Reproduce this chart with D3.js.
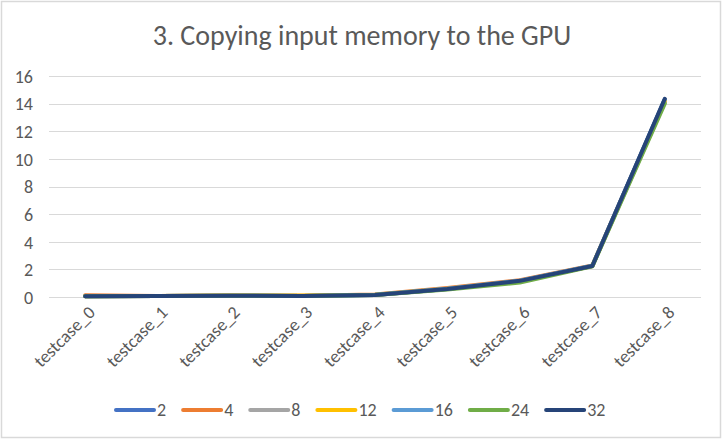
<!DOCTYPE html>
<html>
<head>
<meta charset="utf-8">
<script src="https://cdn.jsdelivr.net/npm/d3@7"></script>
<style>
  body { margin: 0; background: #fff; }
  text { font-family: Carlito, "Open Sans", "Noto Sans", sans-serif; fill: #595959; }
</style>
</head>
<body>
<div id="chart"></div>
<script>
// categories on the x axis
var categories = ["testcase_0", "testcase_1", "testcase_2", "testcase_3", "testcase_4",
                  "testcase_5", "testcase_6", "testcase_7", "testcase_8"];

// series names (legend) and their colours
var seriesNames = ["2", "4", "8", "12", "16", "24", "32"];
var seriesColors = ["#4472C4", "#ED7D31", "#A5A5A5", "#FFC000", "#5B9BD5", "#70AD47", "#264478"];

// values, one array per series
var s2  = [0.05, 0.07, 0.09, 0.08, 0.15, 0.58, 1.18, 2.25, 14.3];
var s4  = [0.12, 0.08, 0.10, 0.09, 0.18, 0.65, 1.22, 2.28, 14.2];
var s8  = [0.06, 0.07, 0.09, 0.08, 0.15, 0.60, 1.15, 2.24, 14.1];
var s12 = [0.06, 0.07, 0.10, 0.10, 0.16, 0.60, 1.16, 2.25, 14.2];
var s16 = [0.06, 0.08, 0.09, 0.08, 0.16, 0.60, 1.18, 2.26, 14.3];
var s24 = [0.05, 0.07, 0.09, 0.08, 0.14, 0.55, 1.05, 2.22, 14.0];
var s32 = [0.05, 0.07, 0.09, 0.08, 0.14, 0.58, 1.17, 2.25, 14.35];
var seriesValues = [s2, s4, s8, s12, s16, s24, s32];

// y ticks
var yTicks = [0, 2, 4, 6, 8, 10, 12, 14, 16];

var width = 724, height = 440;

var svg = d3.select("#chart").append("svg")
    .attr("width", width)
    .attr("height", height);

// chart border
svg.append("rect")
    .attr("x", 1.5).attr("y", 1.5)
    .attr("width", 719).attr("height", 436)
    .attr("fill", "#fff")
    .attr("stroke", "#d9d9d9")
    .attr("stroke-width", 1.5);

// title
svg.append("text")
    .attr("x", 362)
    .attr("y", 45)
    .attr("text-anchor", "middle")
    .style("font-size", "28px")
    .text("3. Copying input memory to the GPU");

var x = d3.scalePoint()
    .domain(categories)
    .range([49, 701])
    .padding(0.5);

var y = d3.scaleLinear()
    .domain([0, 16])
    .range([297, 76]);

// gridlines
svg.append("g")
  .selectAll("line")
  .data(yTicks)
  .enter().append("line")
    .attr("x1", 49).attr("x2", 701)
    .attr("y1", function(d) { return Math.round(y(d)) + 0.5; })
    .attr("y2", function(d) { return Math.round(y(d)) + 0.5; })
    .attr("stroke", "#d9d9d9")
    .attr("stroke-width", 1);

// y axis labels
var yAxis = d3.axisLeft(y).tickValues(yTicks).tickSize(0).tickPadding(0);
var gy = svg.append("g").attr("transform", "translate(33,0)").call(yAxis);
gy.select(".domain").remove();
gy.selectAll("text")
    .style("font-size", "18px")
    .style("font-family", "Carlito, 'Open Sans', 'Noto Sans', sans-serif")
    .attr("fill", "#595959")
    .attr("text-anchor", "end")
    .attr("dy", "0.35em");

// x axis labels, rotated
var xAxis = d3.axisBottom(x).tickSize(0).tickPadding(0);
var gx = svg.append("g").attr("transform", "translate(0,297)").call(xAxis);
gx.select(".domain").remove();
gx.selectAll("text")
    .style("font-size", "18px")
    .style("font-family", "Carlito, 'Open Sans', 'Noto Sans', sans-serif")
    .attr("fill", "#595959")
    .attr("text-anchor", "end")
    .attr("dy", "0.35em")
    .attr("transform", "translate(6,12) rotate(-45)");

// lines
var line = d3.line()
    .x(function(d, i) { return x(categories[i]); })
    .y(function(d) { return y(d); });

for (var i = 0; i < seriesNames.length; i++) {
  svg.append("path")
      .datum(seriesValues[i])
      .attr("d", line)
      .attr("fill", "none")
      .attr("stroke", seriesColors[i])
      .attr("stroke-width", 4)
      .attr("stroke-linejoin", "round")
      .attr("stroke-linecap", "round");
}

// legend
var legend = svg.append("g");
var lx = 114;
for (var j = 0; j < seriesNames.length; j++) {
  legend.append("line")
      .attr("x1", lx + 2).attr("x2", lx + 40)
      .attr("y1", 410).attr("y2", 410)
      .attr("stroke", seriesColors[j])
      .attr("stroke-width", 4)
      .attr("stroke-linecap", "round");
  var t = legend.append("text")
      .attr("x", lx + 43)
      .attr("y", 410)
      .attr("dy", "0.35em")
      .style("font-size", "18px")
      .text(seriesNames[j]);
  lx += 43 + t.node().getComputedTextLength() + 15;
}
</script>
</body>
</html>
